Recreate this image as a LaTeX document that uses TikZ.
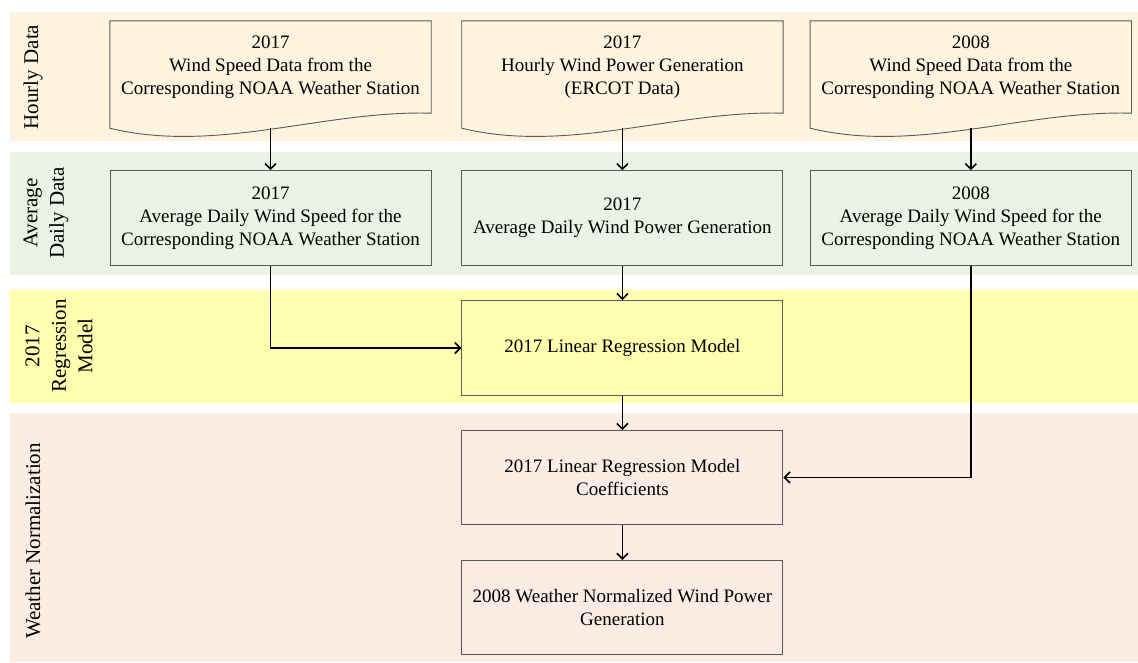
\documentclass[tikz,border=0pt]{standalone}
\usepackage{fontspec}
\setmainfont{Liberation Serif}
\usepackage{tikz}
\usetikzlibrary{arrows.meta, positioning, backgrounds, calc}
\definecolor{hourlyband}{HTML}{FDF3DE}
\definecolor{dailyband}{HTML}{EBF3E4}
\definecolor{modelband}{HTML}{FFFFAF}
\definecolor{normband}{HTML}{FCEDE4}
\definecolor{boxgray}{HTML}{5A5A5A}
\newcommand{\flowfont}{\fontsize{19}{23}\selectfont}
\newcommand{\lanefont}{\fontsize{21}{26.5}\selectfont}
\tikzstyle{docbox} = [rectangle, minimum width=321pt, minimum height=92pt, align=center, font=\flowfont]
\tikzstyle{stepbox} = [rectangle, draw=boxgray, line width=0.9pt, minimum width=321pt, minimum height=95pt,
  align=center, font=\flowfont]
\tikzstyle{docshape} = [draw=boxgray, fill=hourlyband, line width=0.9pt]
\tikzstyle{lanelabel} = [rotate=90, align=center, font=\lanefont]
\tikzstyle{arrow} = [line width=1.6pt, -{Straight Barb[length=5.5pt,width=11pt]}]

\begin{document}
\begin{tikzpicture}[x=1pt, y=1pt, node distance=30pt]
  \useasboundingbox (0,0) rectangle (1138,-662);

  % lanes
  \begin{scope}[on background layer]
    \fill[hourlyband] (10,-12) rectangle (1138,-141);
    \fill[dailyband] (10,-152) rectangle (1138,-275);
    \fill[modelband] (10,-290) rectangle (1138,-403);
    \fill[normband] (10,-413) rectangle (1138,-662);
  \end{scope}
  \node (lhourly) [lanelabel] at (33,-77) {Hourly Data};
  \node (ldaily) [lanelabel] at (46,-213) {Average\\Daily Data};
  \node (lmodel) [lanelabel] at (59,-346) {2017\\Regression\\Model};
  \node (lnorm) [lanelabel] at (33,-541) {Weather Normalization};

  % hourly data
  \node (h1) [docbox] at (270.5,-67)
    {2017\\Wind Speed Data from the\\Corresponding NOAA Weather Station};
  \node (h2) [docbox, right=30.5pt of h1]
    {2017\\Hourly Wind Power Generation\\(ERCOT Data)};
  \node (h3) [docbox, right=27pt of h2]
    {2008\\Wind Speed Data from the\\Corresponding NOAA Weather Station};
  \begin{scope}[on background layer]
    \foreach \h in {h1,h2,h3}
      \draw[docshape] ($(\h.south west)+(0,-15)$) -- (\h.north west) -- (\h.north east) -- (\h.south east)
        .. controls +(-107,3.2) and +(107,-26) .. ($(\h.south west)+(0,-15)$) -- cycle;
  \end{scope}

  % average daily data
  \node (d1) [stepbox, fill=dailyband, below=57pt of h1]
    {2017\\Average Daily Wind Speed for the\\Corresponding NOAA Weather Station};
  \node (d2) [stepbox, fill=dailyband, below=57pt of h2]
    {2017\\Average Daily Wind Power Generation};
  \node (d3) [stepbox, fill=dailyband, below=57pt of h3]
    {2008\\Average Daily Wind Speed for the\\Corresponding NOAA Weather Station};

  % model and normalization
  \node (lrm) [stepbox, fill=modelband, below=34pt of d2] {2017 Linear Regression Model};
  \node (coef) [stepbox, fill=normband, minimum height=94pt, below=34pt of lrm]
    {2017 Linear Regression Model\\Coefficients};
  \node (wnorm) [stepbox, fill=normband, minimum height=94pt, below=35pt of coef]
    {2008 Weather Normalized Wind Power\\Generation};

  \draw[arrow] ($(h1.south)+(0,-15)$) -- (d1);
  \draw[arrow] ($(h2.south)+(0,-15)$) -- (d2);
  \draw[arrow] ($(h3.south)+(0,-15)$) -- (d3);
  \draw[arrow] (d1.south) |- (lrm.west);
  \draw[arrow] (d2) -- (lrm);
  \draw[arrow] (lrm) -- (coef);
  \draw[arrow] (d3.south) |- (coef.east);
  \draw[arrow] (coef) -- (wnorm);
\end{tikzpicture}
\end{document}
